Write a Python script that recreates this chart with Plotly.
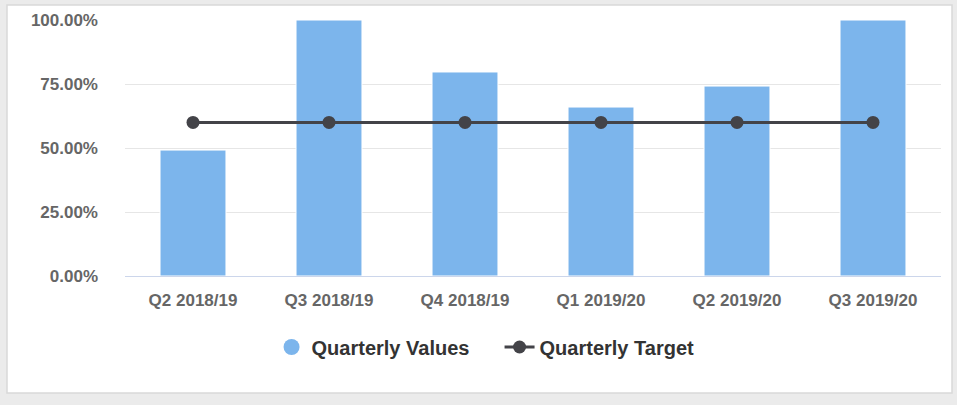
import plotly.graph_objects as go

categories = ["Q2 2018/19", "Q3 2018/19", "Q4 2018/19", "Q1 2019/20", "Q2 2019/20", "Q3 2019/20"]
quarterly_values = [0.492, 1.0, 0.797, 0.66, 0.742, 1.0]
quarterly_target = [0.60, 0.60, 0.60, 0.60, 0.60, 0.60]
y_ticks = [0, 0.25, 0.5, 0.75, 1.0]

W, H = 957, 405
L, R, T, B = 125, 16, 20, 129
pw, ph = W - L - R, H - T - B

def px_x(x):
    return (x - L) / pw

def px_y(y):
    return (H - B - y) / ph

BAR_COLOR = "#7cb5ec"
LINE_COLOR = "#434348"
FONT = "Liberation Sans, Arial, sans-serif"

fig = go.Figure()
fig.add_trace(go.Bar(
    x=categories, y=quarterly_values, name="Quarterly Values",
    marker=dict(color=BAR_COLOR, line=dict(color="#ffffff", width=1)),
    showlegend=False,
))
fig.add_trace(go.Scatter(
    x=[None], y=[None], mode="markers", name="Quarterly Values",
    marker=dict(color=BAR_COLOR, size=16, symbol="circle"),
    showlegend=True,
))
fig.add_trace(go.Scatter(
    x=categories, y=quarterly_target, mode="lines+markers", name="Quarterly Target",
    line=dict(color=LINE_COLOR, width=3),
    marker=dict(color=LINE_COLOR, size=13, symbol="circle"),
))

fig.update_layout(
    width=W, height=H,
    margin=dict(l=L, r=R, t=T, b=B, pad=0),
    paper_bgcolor="#ebebeb",
    plot_bgcolor="rgba(0,0,0,0)",
    bargap=0.515,
    font=dict(family=FONT),
    showlegend=True,
    legend=dict(
        orientation="h", xref="container", yref="container",
        x=0.522, xanchor="center", y=1 - 347 / H, yanchor="middle",
        font=dict(size=20, color="#333333", family=FONT, weight="bold"),
        bgcolor="rgba(0,0,0,0)", itemsizing="trace", traceorder="normal",
        entrywidth=183, entrywidthmode="pixels",
    ),
    shapes=[dict(
        type="rect", xref="paper", yref="paper", layer="below",
        x0=px_x(7), x1=px_x(952), y0=px_y(393), y1=px_y(5),
        fillcolor="#ffffff", line=dict(color="#d9d9d9", width=1.5),
    )],
)

fig.update_xaxes(
    type="category", showgrid=False, showline=True, linecolor="#ccd6eb", linewidth=1,
    ticks="", ticklabelstandoff=9,
    tickfont=dict(size=17, color="#666666", family=FONT, weight="bold"),
    zeroline=False,
)
fig.update_yaxes(
    range=[0, 1], tickvals=y_ticks, tickformat=".2%",
    showgrid=True, gridcolor="#e6e6e6", gridwidth=1, zeroline=False,
    showline=False, ticks="", ticklabelstandoff=26,
    tickfont=dict(size=17, color="#666666", family=FONT, weight="bold"),
)

fig.write_html(
    "out.html",
    config={"displayModeBar": False},
    post_script="document.body.style.margin='0';document.body.style.overflow='hidden';",
)
